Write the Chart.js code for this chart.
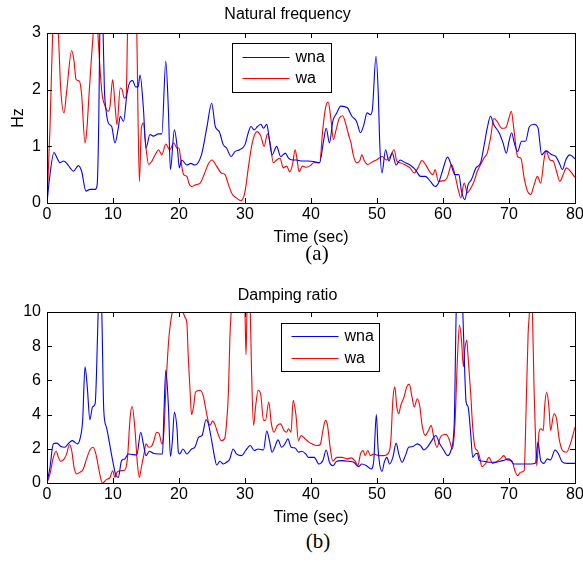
<!DOCTYPE html>
<html>
<head>
<meta charset="utf-8">
<script src="https://cdn.jsdelivr.net/npm/chart.js@4.4.1/dist/chart.umd.min.js"></script>
<style>
  body { margin: 0; background: #fff; }
  #wrap { position: relative; width: 583px; height: 563px; overflow: hidden; }
  canvas { position: absolute; left: 0; }
  .cap { position: absolute; width: 60px; text-align: center; font-family: "Liberation Serif", "Times New Roman", serif; font-size: 21px; line-height: 21px; color: #000; }
</style>
</head>
<body>
<div id="wrap">
  <canvas id="freqChart" width="583" height="247" style="top:0"></canvas>
  <canvas id="dampChart" width="583" height="247" style="top:280px"></canvas>
  <div class="cap" style="left:287px;top:243px">(a)</div>
  <div class="cap" style="left:288px;top:531px">(b)</div>
</div>
<script>
// tick labels
const timeTicks = [0, 10, 20, 30, 40, 50, 60, 70, 80];
const freqTicks = [0, 1, 2, 3];
const dampTicks = [0, 2, 4, 6, 8, 10];
const seriesNames = ['wna', 'wa'];

// natural frequency (Hz) - wna
const freqWnaT = [0,0.4,1.06,1.5,1.97,2.5,3.0,3.5,4.0,4.75,5.25,5.9,6.5,7.3,7.6,7.85,8.0,8.25,8.5,8.7,8.9,9.3,9.8,10.3,10.8,11.1,11.6,12.1,12.6,13.0,13.4,13.8,14.1,14.6,15.0,15.6,16.1,16.9,17.4,18.0,18.4,18.7,19.3,19.8,20.05,20.4,21.2,21.8,22.4,23.4,24.2,24.95,25.5,26.1,26.7,27.2,27.9,28.5,29.2,30.0,30.5,30.9,31.4,31.9,32.4,32.8,33.3,33.6,34.1,34.8,35.4,36.1,36.6,37.2,37.8,38.6,39.6,40.4,41.3,41.9,42.3,42.8,43.3,43.9,44.5,45.5,46.2,46.9,47.5,48.0,48.5,49.0,49.3,49.85,50.2,50.4,50.75,51.3,51.8,52.3,52.9,53.5,54.3,55.0,55.8,56.6,57.3,58.1,58.8,59.3,59.9,60.7,61.3,61.8,62.4,62.8,63.3,63.8,64.3,65.0,65.7,66.2,66.7,67.2,67.7,68.5,69.1,69.6,70.0,70.4,70.8,71.3,71.9,72.5,73.1,73.8,74.4,74.95,75.6,76.5,77.1,77.6,78.1,78.6,79.2,80];
const freqWnaV = [0,0.45,0.89,0.8,0.71,0.74,0.7,0.62,0.56,0.66,0.56,0.21,0.24,0.24,0.32,1.5,3.0,3.8,3.0,2.0,1.68,1.41,1.35,1.06,1.32,1.53,1.44,1.91,2.14,2.16,2.05,2.05,2.26,1.68,0.97,1.21,1.18,1.22,1.22,2.5,1.62,0.59,1.29,0.91,0.62,0.76,0.67,0.7,0.67,0.85,1.32,1.76,1.35,1.26,1.03,0.97,0.82,0.91,0.94,1.03,1.24,1.35,1.29,1.35,1.39,1.32,1.39,1.2,0.85,1.0,0.82,0.88,0.79,0.76,0.76,0.74,0.74,0.73,0.71,1.09,1.32,1.06,1.44,1.59,1.71,1.68,1.53,1.44,1.24,1.38,1.59,1.56,1.65,2.59,1.91,1.09,0.53,0.94,0.74,0.88,0.67,0.76,0.71,0.67,0.59,0.47,0.47,0.38,0.29,0.35,0.56,0.81,0.65,0.5,0.5,0.21,0.06,0.32,0.41,0.62,0.71,1.0,1.32,1.53,1.38,1.24,1.06,0.88,1.09,1.24,1.06,0.91,1.09,1.09,1.35,1.39,1.32,0.85,0.92,0.85,0.82,0.71,0.59,0.76,0.85,0.78];

// natural frequency (Hz) - wa
const freqWaT = [0,0.45,0.86,1.25,1.72,2.07,2.58,2.98,3.74,4.1,4.4,4.9,5.25,5.76,6.0,6.4,6.77,7.0,7.3,7.7,8.3,8.8,9.3,9.55,9.95,10.3,10.6,11.1,11.4,11.7,12.0,12.2,12.5,13.3,13.6,14.0,14.3,14.6,15.0,15.4,15.9,16.4,16.9,17.4,18.0,18.6,19.2,19.7,20.0,20.3,20.7,21.2,21.5,21.9,22.5,23.2,23.9,24.4,25.0,25.7,26.4,26.97,27.5,28.1,28.7,29.4,30.0,30.5,31.1,31.8,32.4,32.9,33.4,33.8,34.3,34.8,35.3,35.8,36.3,36.8,37.2,37.6,37.9,38.2,38.7,39.3,39.9,40.4,41.3,41.8,42.2,42.6,43.0,43.4,43.8,44.3,44.8,45.3,45.7,46.06,46.4,46.9,47.4,47.7,48.1,48.6,49.2,49.9,50.8,51.4,52.0,52.6,53.0,53.5,54.3,55.0,55.65,56.2,56.8,57.5,58.1,58.5,58.8,59.3,59.85,60.3,60.7,61.3,61.8,62.3,62.7,63.2,63.7,64.2,64.7,65.2,65.7,66.2,66.7,67.2,67.7,68.2,68.9,69.5,70.0,70.35,70.75,71.3,71.8,72.3,72.8,73.3,73.8,74.3,74.8,75.3,75.6,76.2,76.7,77.2,77.7,78.2,78.7,79.3,80];
const freqWaV = [0,1.32,3.0,3.8,3.0,2.03,1.59,1.97,2.69,2.5,2.18,2.15,1.91,1.06,1.24,1.97,2.62,3.0,3.8,3.0,1.97,1.71,1.62,1.71,2.18,1.74,1.38,2.03,2.0,1.85,1.88,3.0,4.0,4.0,3.0,0.38,1.32,1.41,0.97,0.68,0.74,0.85,0.94,0.85,1.04,0.94,1.06,0.97,0.97,0.74,0.5,0.47,0.35,0.29,0.32,0.35,0.53,0.68,0.76,0.65,0.53,0.5,0.32,0.15,0.09,0.04,0.2,0.62,1.06,1.26,1.18,1.0,1.22,1.06,0.71,0.76,0.79,0.62,0.65,0.55,0.68,0.94,0.76,0.55,0.65,0.63,0.66,0.71,0.71,1.32,1.68,1.78,1.5,1.12,1.29,1.5,1.54,1.38,1.2,1.06,0.85,0.71,0.75,0.85,0.74,0.68,0.72,0.76,0.82,0.76,0.82,0.94,0.74,0.71,0.67,0.62,0.53,0.62,0.75,0.65,0.53,0.5,0.59,0.38,0.39,0.4,0.47,0.68,0.5,0.24,0.09,0.35,0.18,0.26,0.38,0.56,0.68,0.79,0.88,1.15,1.49,1.44,1.32,1.33,1.5,1.62,1.29,0.82,0.79,0.44,0.21,0.15,0.32,0.47,0.35,0.76,0.92,0.76,0.74,0.56,0.38,0.5,0.62,0.56,0.45];

// damping ratio - wna
const dampWnaT = [0,0.45,0.96,1.5,2.1,2.7,3.2,3.84,4.2,4.6,5.0,5.4,5.76,6.1,6.5,6.9,7.3,7.5,7.75,8.0,8.3,8.6,9.0,9.4,9.95,10.45,10.8,11.3,11.8,12.3,12.98,13.6,14.2,14.6,15.0,15.5,16.1,16.9,17.5,17.7,18.0,18.4,18.7,19.0,19.3,19.7,19.9,20.1,20.6,21.2,21.9,22.4,23.0,23.5,24.1,24.45,24.95,25.4,25.7,26.2,26.7,27.2,27.7,28.2,28.7,29.5,30.1,30.8,31.4,32.0,32.8,33.3,33.7,34.1,34.5,35.0,35.55,36.05,36.5,37.0,37.6,38.1,38.6,39.2,39.6,40.2,40.5,41.2,41.8,42.3,42.8,43.3,43.9,44.7,45.7,46.5,47.2,47.7,48.4,49.1,49.5,49.9,50.15,50.4,50.75,51.1,51.5,51.9,52.4,52.9,53.3,53.8,54.3,54.8,55.45,56.1,56.6,57.1,57.7,58.3,58.9,59.5,60.0,60.7,61.2,61.7,62.0,62.5,63.0,63.3,63.5,63.8,64.2,64.5,64.9,65.2,65.5,66.2,66.97,68.0,69.0,70.0,70.75,72.0,73.3,74.0,74.4,74.8,75.3,75.8,76.3,76.97,77.5,78.0,78.8,80];
const dampWnaV = [0,0.92,2.29,2.33,2.13,2.09,2.29,2.48,2.39,2.29,2.58,3.66,6.79,5.62,3.7,4.45,4.64,6.4,10,12.5,10,4.25,3.27,2.48,1.31,0.43,0.33,1.31,1.41,1.7,1.66,1.64,2.97,2.29,1.6,1.86,1.74,1.7,1.7,3.85,6.6,4.45,1.55,2.48,4.14,3.17,1.8,1.7,1.99,1.7,1.99,2.09,2.68,2.78,3.7,3.46,2.48,1.5,1.05,1.27,1.11,1.21,1.41,1.99,1.7,1.6,1.9,2.19,1.9,1.99,1.93,3.04,2.48,1.8,2.09,2.52,2.09,2.29,2.58,2.09,2.05,1.8,1.86,1.7,1.5,1.5,1.5,1.11,1.31,1.93,1.21,1.01,1.27,1.31,1.27,1.21,0.96,1.11,1.01,0.82,1.27,4.01,2.09,1.11,0.68,1.21,1.5,1.11,1.5,2.33,1.7,1.21,1.6,2.09,2.13,2.29,2.19,1.93,2.13,2.48,2.78,2.29,1.99,1.6,1.9,3.46,10,13,10,6.4,4.73,4.45,2.88,1.5,1.7,1.74,1.31,1.27,1.21,1.21,1.31,1.41,1.11,1.11,1.11,1.15,2.39,1.31,1.15,1.41,1.35,1.93,1.7,1.27,1.15,1.15];

// damping ratio - wa
const dampWaT = [0,0.45,0.96,1.4,1.72,2.07,2.6,2.98,3.4,3.74,4.1,4.5,5.0,5.5,6.0,6.5,7.0,7.4,7.8,8.1,8.4,9.0,9.55,9.95,10.3,10.6,11.2,11.8,12.2,12.6,12.9,13.3,13.7,14.0,14.3,14.7,15.0,15.4,15.8,16.2,16.6,17.0,17.4,17.7,18.0,18.4,18.7,19.0,19.5,20.3,20.6,20.9,21.2,21.4,21.7,21.9,22.2,22.5,23.2,23.7,24.0,24.4,24.7,25.1,25.5,25.9,26.4,26.9,27.2,27.5,27.7,27.9,28.5,29.5,30.0,30.15,30.3,30.55,30.8,31.0,31.3,31.6,32.0,32.4,32.8,33.1,33.6,34.0,34.4,34.9,35.4,35.9,36.3,36.6,36.97,37.3,37.7,38.1,38.5,39.1,39.7,40.15,40.9,41.4,41.8,42.2,42.5,42.9,43.3,43.9,44.7,45.45,46.1,46.7,47.1,47.5,47.9,48.2,48.6,49.0,49.5,50.25,51.0,51.8,52.1,52.4,52.7,53.0,53.3,53.6,54.1,54.5,54.9,55.3,55.65,56.1,56.5,56.8,57.3,57.8,58.2,58.6,59.1,59.6,60.2,60.5,61.0,61.4,61.8,62.2,62.5,62.8,63.1,63.3,63.6,63.8,64.2,64.5,64.85,65.2,65.5,65.9,66.4,66.97,67.5,68.2,68.7,69.2,69.7,70.4,70.9,71.3,71.75,72.3,72.6,72.9,73.1,73.3,73.55,73.8,74.0,74.2,74.55,74.8,75.2,75.4,75.7,76.05,76.3,76.8,77.2,77.6,78.1,78.7,79.3,80];
const dampWaV = [0,0.53,1.5,1.86,1.5,1.27,1.41,1.7,2.25,1.9,0.92,0.53,0.63,0.82,1.41,1.93,2.09,1.7,0.92,0.33,0,0.2,0.33,0.72,0.33,0.63,0.72,0.76,1.5,3.85,4.47,3.27,1.11,0.33,0.92,1.7,2.29,2.09,2.13,2.48,2.97,2.88,2.29,2.88,5.42,8.16,9.33,10,10.4,10.3,10,9.7,9.33,7.4,5.22,4.0,4.45,5.32,5.42,5.06,4.45,3.66,3.37,3.62,3.37,2.88,2.48,2.58,3.46,5.42,8.36,10,13,13,10,7.5,10,12,10,6.4,3.37,4.45,5.42,5.13,3.66,3.66,4.73,3.46,2.97,3.37,3.46,3.07,2.97,3.17,2.97,4.84,4.05,2.48,2.78,2.58,2.39,2.29,2.19,2.25,3.07,3.66,3.37,2.09,1.27,1.5,1.5,1.41,1.47,1.27,1.01,1.7,1.9,1.6,1.9,1.6,1.7,1.6,1.6,1.8,2.48,4.84,5.62,4.45,4.05,4.54,5.03,5.62,5.78,5.03,4.45,4.93,4.45,3.46,2.78,3.07,3.37,2.68,2.09,2.68,2.84,2.84,2.48,1.99,3.37,7.38,9.24,8.36,6.79,7.77,8.36,7.38,5.22,3.27,2.09,1.9,1.6,0.96,1.11,1.5,1.15,1.27,1.41,1.6,1.35,1.31,0.72,0.43,0.63,0.72,4.45,8.76,10,12,10,5.5,2.88,1.01,2.97,3.17,3.07,4.45,5.3,4.45,3.07,4.05,3.76,2.58,1.9,1.8,2.29,3.27];

const zip = (ts, vs) => ts.map((t, i) => ({x: t, y: vs[i]}));

Chart.defaults.font.family = '"Liberation Sans", Arial, sans-serif';
Chart.defaults.color = '#000';

// MATLAB-like box with inward ticks and a framed legend
const framePlugin = {
  id: 'frame',
  afterDatasetsDraw(chart, args, opts) {
    const {ctx, chartArea: a, scales: {x, y}} = chart;
    ctx.save();
    ctx.strokeStyle = '#000';
    ctx.lineWidth = 1;
    ctx.beginPath();
    x.ticks.forEach(t => {
      const px = Math.round(x.getPixelForValue(t.value)) + 0.5;
      ctx.moveTo(px, a.bottom); ctx.lineTo(px, a.bottom - 5);
      ctx.moveTo(px, a.top); ctx.lineTo(px, a.top + 5);
    });
    y.ticks.forEach(t => {
      const py = Math.round(y.getPixelForValue(t.value)) + 0.5;
      ctx.moveTo(a.left, py); ctx.lineTo(a.left + 5, py);
      ctx.moveTo(a.right, py); ctx.lineTo(a.right - 5, py);
    });
    ctx.stroke();
    ctx.strokeRect(Math.round(a.left) + 0.5, Math.round(a.top) + 0.5,
      Math.round(a.right - a.left), Math.round(a.bottom - a.top));

    // legend
    const bx = Math.round(a.left + opts.dx) + 0.5, by = Math.round(a.top + opts.dy) + 0.5;
    ctx.fillStyle = '#fff';
    ctx.fillRect(bx, by, opts.w, opts.h);
    ctx.strokeRect(bx, by, opts.w, opts.h);
    ctx.font = '16px "Liberation Sans", Arial, sans-serif';
    ctx.textBaseline = 'middle';
    chart.data.datasets.forEach((ds, i) => {
      const ly = by + opts.rows[i];
      ctx.strokeStyle = ds.borderColor;
      ctx.beginPath();
      ctx.moveTo(bx + 10, ly); ctx.lineTo(bx + 57, ly);
      ctx.stroke();
      ctx.fillStyle = '#000';
      ctx.fillText(ds.label, bx + 63, ly);
    });
    ctx.restore();
  }
};

function makeChart(id, title, yLabel, yTicks, wnaT, wnaV, waT, waV, titlePad, legend) {
  return new Chart(document.getElementById(id), {
    type: 'line',
    data: {
      datasets: [
        {label: seriesNames[0], data: zip(wnaT, wnaV), borderColor: '#0000ff', borderWidth: 1.1, pointRadius: 0, cubicInterpolationMode: 'monotone'},
        {label: seriesNames[1], data: zip(waT, waV), borderColor: '#ff0000', borderWidth: 1.1, pointRadius: 0, cubicInterpolationMode: 'monotone'}
      ]
    },
    options: {
      responsive: false,
      animation: false,
      layout: {padding: {left: 0, right: 8, top: 0, bottom: 0}},
      plugins: {
        legend: {display: false},
        tooltip: {enabled: false},
        title: {display: true, text: title, font: {size: 16, weight: 'normal'}, padding: titlePad},
        frame: legend
      },
      scales: {
        x: {
          type: 'linear', min: timeTicks[0], max: timeTicks[timeTicks.length - 1],
          afterBuildTicks: s => { s.ticks = timeTicks.map(v => ({value: v})); },
          afterFit: s => { s.height = 44; s.paddingLeft = 0; s.paddingRight = 8; },
          ticks: {font: {size: 16}, padding: 2, maxRotation: 0},
          grid: {display: false, drawTicks: false},
          border: {display: false},
          title: {display: true, text: 'Time (sec)', font: {size: 16}, padding: {top: 0, bottom: 0}}
        },
        y: {
          min: yTicks[0], max: yTicks[yTicks.length - 1],
          afterBuildTicks: s => { s.ticks = yTicks.map(v => ({value: v})); },
          afterFit: s => { s.width = 47; },
          ticks: {font: {size: 16}, padding: 6},
          grid: {display: false, drawTicks: false},
          border: {display: false},
          title: {display: !!yLabel, text: yLabel, font: {size: 16}, padding: {top: 9, bottom: 0}}
        }
      }
    },
    plugins: [framePlugin]
  });
}

makeChart('freqChart', 'Natural frequency', 'Hz', freqTicks, freqWnaT, freqWnaV, freqWaT, freqWaV,
  {top: 5, bottom: 8.8}, {dx: 185, dy: 10, w: 99, h: 49, rows: [14, 35]});
makeChart('dampChart', 'Damping ratio', '', dampTicks, dampWnaT, dampWnaV, dampWaT, dampWaV,
  {top: 6, bottom: 6.8}, {dx: 234, dy: 11, w: 98, h: 48, rows: [13, 35]});
</script>
</body>
</html>
